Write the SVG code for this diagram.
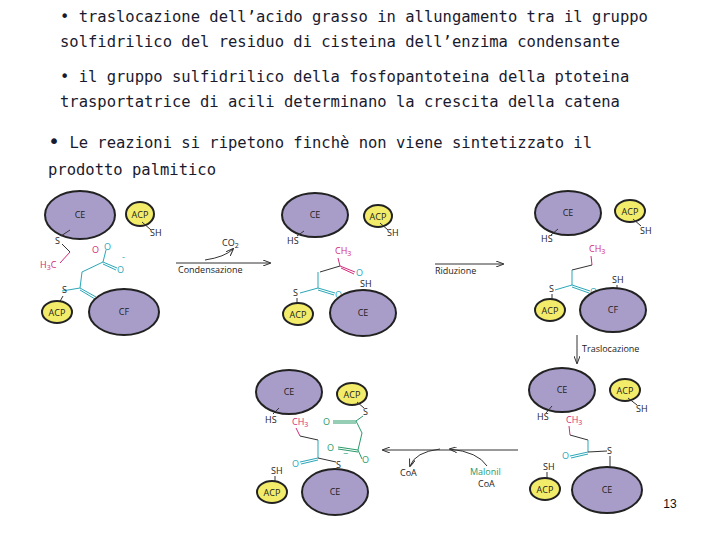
<svg xmlns="http://www.w3.org/2000/svg" width="720" height="540" viewBox="0 0 720 540">
<defs>
<marker id="ah" markerWidth="8" markerHeight="6" refX="7" refY="3" orient="auto"><path d="M0,0 L8,3 L0,6" fill="none" stroke="#333" stroke-width="1"/></marker>
<style>
.t{font-family:"DejaVu Sans Mono",monospace;font-size:15.5px;fill:#1a1a2e}
.ce{fill:#a89cc8;stroke:#222;stroke-width:2}
.acp{fill:#f2ec6a;stroke:#222;stroke-width:2}
.l{font-family:"Open Sans","Liberation Sans",sans-serif;font-size:9px;fill:#222}
.n{font-family:"Open Sans","Liberation Sans",sans-serif;font-size:9px;fill:#222}
.p{fill:#d4287a}.c{fill:#2aa7b8}.g{fill:#2a9a6a}
.b{stroke:#333;stroke-width:1;fill:none}
.bp{stroke:#d4287a;stroke-width:1;fill:none}
.bc{stroke:#2aa7b8;stroke-width:1;fill:none}
.bg{stroke:#2a9a6a;stroke-width:1;fill:none}
.ar{stroke:#333;stroke-width:1;fill:none;marker-end:url(#ah)}
</style>
</defs>
<rect width="720" height="540" fill="#fff"/>
<text class="t" x="60" y="22">• traslocazione dell’acido grasso in allungamento tra il gruppo</text>
<text class="t" x="60" y="47">solfidrilico del residuo di cisteina dell’enzima condensante</text>
<text class="t" x="60" y="82">• il gruppo sulfidrilico della fosfopantoteina della ptoteina</text>
<text class="t" x="60" y="107">trasportatrice di acili determinano la crescita della catena</text>
<text class="t" x="48" y="148"><tspan font-size="20">•</tspan> Le reazioni si ripetono finchè non viene sintetizzato il</text>
<text class="t" x="48" y="175">prodotto palmitico</text>

<g id="connectors">
<line class="ar" x1="176" y1="263" x2="270" y2="263"/>
<path class="ar" d="M205,260 Q225,257 233,249"/>
<line class="ar" x1="435" y1="264" x2="503" y2="264"/>
<line class="ar" x1="577" y1="335" x2="577" y2="363"/>
<line class="ar" x1="518" y1="450" x2="383" y2="450"/>
<path class="ar" d="M440,449 Q415,452 410,466"/>
<path class="ar" d="M487,466 Q478,452 450,449"/>
</g>
<g id="labels">
<text class="n" x="222" y="246">CO<tspan font-size="7" dy="2">2</tspan></text>
<text class="n" x="178" y="273">Condensazione</text>
<text class="n" x="435" y="274">Riduzione</text>
<text class="n" x="582" y="352">Traslocazione</text>
<text class="n" x="400" y="476">CoA</text>
<text class="n g" x="470" y="475">Malonil</text>
<text class="n" x="478" y="487">CoA</text>
<text x="670" y="508" font-family="Liberation Sans,sans-serif" font-size="12" fill="#111" text-anchor="middle">13</text>
</g>

<g id="panel1">
<ellipse class="ce" cx="80" cy="215" rx="35" ry="24"/><text class="l" x="80" y="218" text-anchor="middle">CE</text>
<ellipse class="acp" cx="140" cy="214" rx="14" ry="12"/><text class="l" x="140" y="218" text-anchor="middle">ACP</text>
<path class="b" d="M142,222 L151,230"/><text class="n" x="150" y="236">SH</text>
<path class="b" d="M70,230 L61,236"/><text class="n" x="55" y="244">S</text>
<path class="b" d="M62,244 L70,252"/>
<path class="bp" d="M70,252 L60,263"/><text class="n p" x="40" y="268">H<tspan font-size="7" dy="2">3</tspan><tspan dy="-2">C</tspan></text>
<text class="n p" x="92" y="253">O</text>
<path class="bc" d="M82,272 L103,262 L106,250 M103,262 L117,268 M103,264 L116,270 M82,272 L80,288 M80,288 L62,291 M80,288 L96,297 M80,290 L95,299"/>
<text class="n c" x="104" y="250">O</text><text class="n c" x="117" y="273">O</text><text class="n c" x="122" y="260">-</text>
<text class="n c" x="96" y="302">O</text>
<text class="n" x="62" y="293">S</text>
<path class="b" d="M63,296 L59,303"/>
<ellipse class="acp" cx="57" cy="312" rx="15" ry="11"/><text class="l" x="57" y="316" text-anchor="middle">ACP</text>
<ellipse class="ce" cx="124" cy="312" rx="35" ry="23"/><text class="l" x="124" y="315" text-anchor="middle">CF</text>
</g>

<g id="panel2">
<ellipse class="ce" cx="315" cy="215" rx="33" ry="22"/><text class="l" x="315" y="218" text-anchor="middle">CE</text>
<ellipse class="acp" cx="378" cy="216" rx="14" ry="11"/><text class="l" x="378" y="220" text-anchor="middle">ACP</text>
<path class="b" d="M380,223 L388,230"/><text class="n" x="387" y="236">SH</text>
<path class="b" d="M304,231 L297,236"/><text class="n" x="287" y="244">HS</text>
<text class="n p" x="335" y="254">CH<tspan font-size="7" dy="2">3</tspan></text>
<path class="bp" d="M338,258 L340,266 L355,272"/>
<path class="b" d="M340,266 L320,272"/>
<path class="bp" d="M341,268 L354,274"/>
<text class="n c" x="356" y="276">O</text>
<path class="bc" d="M318,272 L318,288 L300,293 M318,288 L335,293 M318,290 L334,295"/>
<text class="n c" x="335" y="298">O</text>
<text class="n" x="293" y="296">S</text><path class="b" d="M297,298 L297,305"/>
<ellipse class="acp" cx="298" cy="314" rx="15" ry="11"/><text class="l" x="298" y="318" text-anchor="middle">ACP</text>
<text class="n" x="360" y="287">SH</text><path class="b" d="M365,289 L365,296"/>
<ellipse class="ce" cx="363" cy="313" rx="33" ry="23"/><text class="l" x="363" y="316" text-anchor="middle">CE</text>
</g>

<g id="panel3">
<ellipse class="ce" cx="568" cy="213" rx="33" ry="22"/><text class="l" x="568" y="216" text-anchor="middle">CE</text>
<ellipse class="acp" cx="630" cy="211" rx="15" ry="11"/><text class="l" x="630" y="215" text-anchor="middle">ACP</text>
<path class="b" d="M633,219 L641,226"/><text class="n" x="640" y="234">SH</text>
<path class="b" d="M558,229 L551,235"/><text class="n" x="541" y="242">HS</text>
<text class="n p" x="589" y="252">CH<tspan font-size="7" dy="2">3</tspan></text>
<path class="bp" d="M591,256 L592,265"/><path class="b" d="M592,265 L572,270"/>
<path class="bc" d="M572,270 L572,285 L555,290 M572,285 L590,291 M572,287 L589,293"/>
<text class="n c" x="590" y="295">O</text>
<text class="n" x="549" y="292">S</text><path class="b" d="M552,294 L552,301"/>
<ellipse class="acp" cx="550" cy="310" rx="15" ry="11"/><text class="l" x="550" y="314" text-anchor="middle">ACP</text>
<text class="n" x="612" y="283">SH</text><path class="b" d="M617,285 L617,292"/>
<ellipse class="ce" cx="613" cy="310" rx="33" ry="22"/><text class="l" x="613" y="313" text-anchor="middle">CF</text>
</g>

<g id="panel4">
<ellipse class="ce" cx="562" cy="390" rx="33" ry="22"/><text class="l" x="562" y="393" text-anchor="middle">CE</text>
<ellipse class="acp" cx="625" cy="390" rx="15" ry="11"/><text class="l" x="625" y="394" text-anchor="middle">ACP</text>
<path class="b" d="M628,398 L637,405"/><text class="n" x="636" y="412">SH</text>
<path class="b" d="M552,406 L546,413"/><text class="n" x="537" y="420">HS</text>
<text class="n p" x="566" y="423">CH<tspan font-size="7" dy="2">3</tspan></text>
<path class="bp" d="M569,426 L570,435"/><path class="b" d="M570,435 L588,440"/>
<path class="bc" d="M588,440 L588,452 L570,456 M588,454 L571,458"/><path class="b" d="M588,452 L607,451"/>
<text class="n c" x="562" y="459">O</text>
<text class="n" x="607" y="454">S</text><path class="b" d="M610,456 L610,468"/>
<text class="n" x="543" y="470">SH</text><path class="b" d="M547,472 L547,479"/>
<ellipse class="acp" cx="545" cy="489" rx="15" ry="11"/><text class="l" x="545" y="493" text-anchor="middle">ACP</text>
<ellipse class="ce" cx="607" cy="490" rx="35" ry="23"/><text class="l" x="607" y="493" text-anchor="middle">CE</text>
</g>

<g id="panel5">
<ellipse class="ce" cx="289" cy="392" rx="33" ry="22"/><text class="l" x="289" y="395" text-anchor="middle">CE</text>
<ellipse class="acp" cx="352" cy="394" rx="15" ry="11"/><text class="l" x="352" y="398" text-anchor="middle">ACP</text>
<path class="b" d="M357,402 L364,408"/><text class="n" x="363" y="415">S</text>
<path class="b" d="M279,408 L273,414"/><text class="n" x="265" y="423">HS</text>
<text class="n p" x="292" y="425">CH<tspan font-size="7" dy="2">3</tspan></text>
<path class="bg" d="M363,416 L356,421 L333,421 M356,423 L333,423 M356,421 L362,433 L358,450 L338,447 M358,452 L338,449 M358,450 L362,459"/>
<text class="n g" x="323" y="425">O</text><text class="n g" x="327" y="451">O</text><text class="n g" x="362" y="463">O</text><text class="n g" x="343" y="457">−</text>
<path class="bp" d="M296,428 L300,436"/><path class="b" d="M300,436 L318,440"/>
<path class="bc" d="M318,440 L318,458 L300,462 M318,460 L301,464"/><path class="b" d="M318,458 L336,462"/>
<text class="n c" x="292" y="467">O</text>
<text class="n" x="336" y="468">S</text><path class="b" d="M339,470 L339,476"/>
<text class="n" x="271" y="474">SH</text><path class="b" d="M275,476 L275,483"/>
<ellipse class="acp" cx="272" cy="492" rx="15" ry="11"/><text class="l" x="272" y="496" text-anchor="middle">ACP</text>
<ellipse class="ce" cx="335" cy="492" rx="33" ry="23"/><text class="l" x="335" y="495" text-anchor="middle">CE</text>
</g>
</svg>
